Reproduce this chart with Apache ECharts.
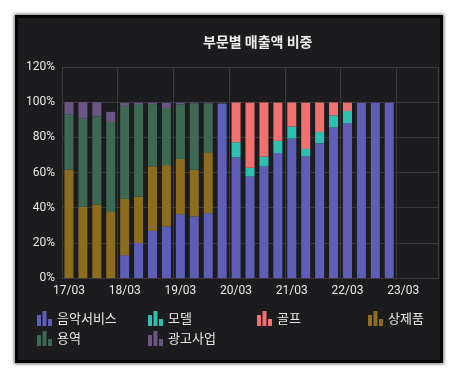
<!DOCTYPE html>
<html>
<head>
<meta charset="utf-8">
<script src="https://cdn.jsdelivr.net/npm/echarts@6/dist/echarts.min.js"></script>
<style>
  html, body { margin: 0; padding: 0; background: #ffffff; width: 459px; height: 380px; overflow: hidden; }
  #card { position: absolute; left: 15px; top: 15px; width: 428px; height: 348px; box-sizing: border-box;
          background: #1c1c1e; border: 3px solid #050505; box-shadow: 0 0 3px 1px rgba(0,0,0,0.55); }
  #chart { position: absolute; left: 0; top: 0; width: 459px; height: 380px; }
</style>
</head>
<body>
<div id="card"></div>
<div id="chart"></div>
<script>
const categories = ['17/03','17/06','17/09','17/12','18/03','18/06','18/09','18/12','19/03','19/06','19/09','19/12',
  '20/03','20/06','20/09','20/12','21/03','21/06','21/09','21/12','22/03','22/06','22/09','22/12','23/03','23/06','23/09'];
const seriesNames = ['음악서비스','모델','골프','상제품','용역','광고사업'];
const musicService = [null,null,null,null,13.0,19.9,26.8,29.4,36.3,35.0,36.9,99.2,68.6,57.7,63.5,71.1,79.3,69.2,76.7,85.7,88.1,99.6,99.6,99.6,null,null,null];
const model        = [null,null,null,null,null,null,null,null,null,null,null,null,8.6,5.0,5.5,6.9,6.9,4.2,6.3,6.8,6.9,null,null,null,null,null,null];
const golf         = [null,null,null,null,null,null,null,null,null,null,null,null,22.6,37.0,30.8,21.7,13.6,26.3,16.8,7.3,4.7,null,null,null,null,null,null];
const goods        = [61.6,40.5,41.7,37.5,32.1,26.4,36.7,34.8,31.4,26.6,34.2,null,null,null,null,null,null,null,null,null,null,null,null,null,null,null,null];
const services     = [31.5,50.3,50.3,51.2,52.8,52.6,35.4,32.5,31.0,37.8,28.3,null,null,null,null,null,null,null,null,null,null,null,null,null,null,null,null];
const advertising  = [6.9,9.2,8.0,5.8,1.7,0.8,0.8,2.9,1.0,0.4,0.3,null,null,null,null,null,null,null,null,null,null,null,null,null,null,null,null];
const yTicks = [0,20,40,60,80,100,120];

const colors = ['#5c5fb5','#2ebfb1','#f0716d','#8c6c1f','#3d6852','#6a5584'];
const seriesData = [musicService, model, golf, goods, services, advertising];
const barIcon = 'path://M0,4H4V15H0Z M5.5,0H9.5V15H5.5Z M11,8H15V15H11Z';
const font = 'Roboto, "Noto Sans CJK KR", sans-serif';
// legend slot positions (layout only)
const legendSlots = [[37,311],[148,311],[257,311],[368,311],[37,331],[148,331]];

const chart = echarts.init(document.getElementById('chart'), null, { renderer: 'canvas' });
chart.setOption({
  backgroundColor: 'transparent',
  color: colors,
  animation: false,
  title: {
    text: '부문별 매출액 비중',
    left: 198, top: 30,
    textStyle: { color: '#ececec', fontSize: 14, fontWeight: 'bold', fontFamily: '"Noto Sans CJK KR", sans-serif' }
  },
  grid: { left: 62, right: 21, top: 67, bottom: 102, containLabel: false },
  legend: seriesNames.map((name, i) => ({
    left: legendSlots[i][0], top: legendSlots[i][1],
    itemWidth: 15, itemHeight: 15, itemGap: 5, padding: 0,
    icon: barIcon,
    textStyle: { color: '#e8e8e8', fontSize: 13, fontFamily: '"Noto Sans CJK KR", sans-serif' },
    data: [name]
  })),
  xAxis: {
    type: 'category',
    data: categories,
    axisLine: { show: true, lineStyle: { color: '#3a3a3c' } },
    axisTick: { show: false },
    axisLabel: { interval: 3, color: '#e8e8e8', fontSize: 12, margin: 7, fontFamily: font },
    splitLine: { show: true, interval: 3, lineStyle: { color: '#3a3a3c', width: 1 } }
  },
  yAxis: {
    type: 'value',
    min: yTicks[0], max: yTicks[yTicks.length - 1], interval: 20,
    axisLine: { show: false },
    axisTick: { show: false },
    axisLabel: { formatter: '{value}%', color: '#e8e8e8', fontSize: 12, margin: 7, fontFamily: font },
    splitLine: { show: true, lineStyle: { color: '#3a3a3c', width: 1 } }
  },
  series: seriesNames.map((name, i) => ({
    name: name,
    type: 'bar',
    stack: 'total',
    barWidth: 9,
    data: seriesData[i],
    itemStyle: { color: colors[i] }
  }))
});
</script>
</body>
</html>
